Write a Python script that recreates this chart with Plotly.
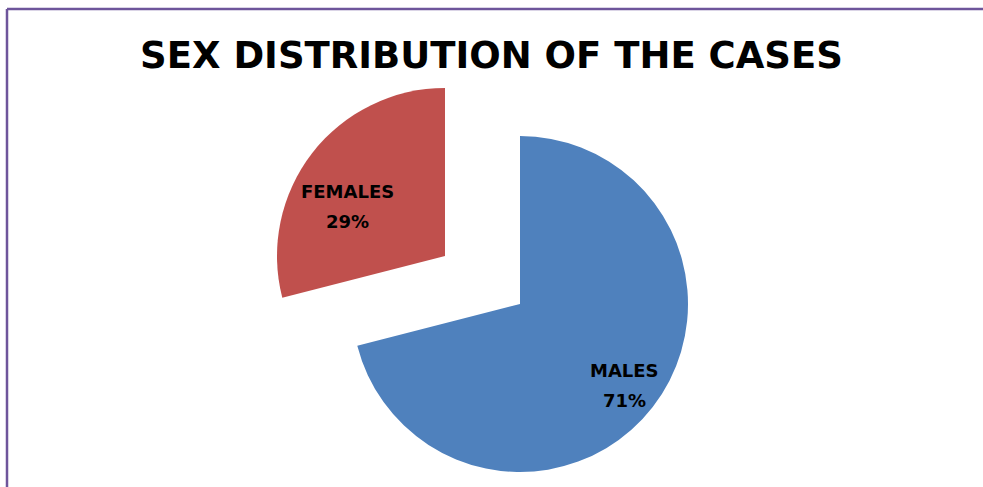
import math
import plotly.graph_objects as go

labels = ["MALES", "FEMALES"]
values = [71, 29]
colors = ["#4F81BD", "#C0504D"]
title_text = "SEX DISTRIBUTION OF THE CASES"

W, H = 983, 487
R = 168
# main pie centre and exploded-slice centre (pixels from top-left)
centres = [(520, 304), (445, 256)]
label_radius = [0.79, 0.65]   # fraction of radius where each label sits
label_turn = [0.0, -11.0]     # degrees nudged from the slice mid-angle


def dom(c):
    cx, cy = c
    ybot = H - cy
    return dict(x=[(cx - R) / W, (cx + R) / W], y=[(ybot - R) / H, (ybot + R) / H])


fig = go.Figure()
total = sum(values)
start = 0.0
annotations = []
for k, c in enumerate(centres):
    cols = [colors[i] if i == k else "rgba(0,0,0,0)" for i in range(len(values))]
    fig.add_trace(go.Pie(
        labels=labels, values=values, sort=False, direction="clockwise", rotation=0,
        marker=dict(colors=cols, line=dict(width=0)),
        textinfo="none", domain=dom(c), showlegend=False, hoverinfo="label+percent",
    ))
    frac = values[k] / total
    mid = (start + frac / 2) * 2 * math.pi + math.radians(label_turn[k])
    start += frac
    px = c[0] + label_radius[k] * R * math.sin(mid)
    py = c[1] - label_radius[k] * R * math.cos(mid)
    for txt, dy in ((labels[k], -15), (f"{round(100 * frac)}%", 15)):
        annotations.append(dict(
            x=px / W, y=1 - (py + dy) / H, xref="paper", yref="paper",
            text=txt, showarrow=False, xanchor="center", yanchor="middle",
            font=dict(family="DejaVu Sans", size=18, color="black", weight="bold"),
        ))

fig.update_layout(
    width=W, height=H, margin=dict(l=0, r=0, t=0, b=0),
    paper_bgcolor="white", plot_bgcolor="white",
    title=dict(text=title_text, x=0.5, xanchor="center", y=0.887, yanchor="middle",
               font=dict(family="DejaVu Sans", size=37, color="black", weight="bold")),
    annotations=annotations,
    shapes=[
        dict(type="line", xref="paper", yref="paper", x0=7 / W, x1=1, y0=1 - 9 / H, y1=1 - 9 / H,
             line=dict(color="#6E559B", width=2.5)),
        dict(type="line", xref="paper", yref="paper", x0=7 / W, x1=7 / W, y0=0, y1=1 - 9 / H,
             line=dict(color="#6E559B", width=2.5)),
    ],
)
fig.write_html("out.html")
